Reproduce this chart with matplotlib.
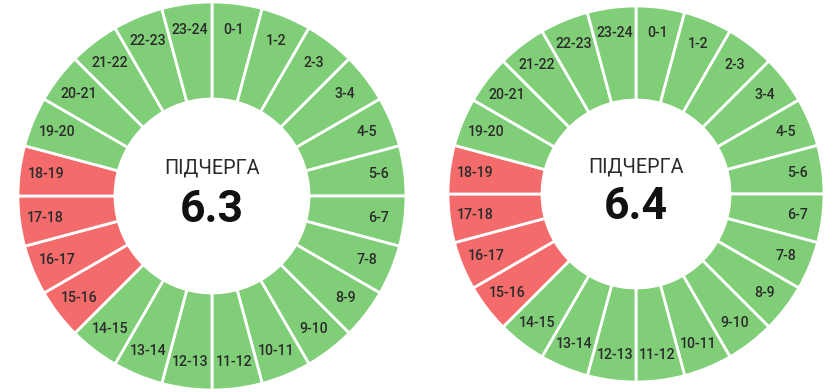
import matplotlib
matplotlib.use("Agg")
import matplotlib.pyplot as plt

# hour slots and their status per queue (True = outage / red)
hours = [f"{h}-{h + 1}" for h in range(24)]
queue_names = ["6.3", "6.4"]
outage_hours = {
    "6.3": [15, 16, 17, 18],
    "6.4": [15, 16, 17, 18],
}
title_text = "ПІДЧЕРГА"

GREEN = "#80cf78"
RED = "#f46b6b"
W, H = 834, 392

# pixel centre and outer radius of each donut
layout = [(212, 196, 194), (636, 194, 188)]

fig = plt.figure(figsize=(W / 100, H / 100), dpi=100)
plt.rcParams["font.family"] = ["Roboto", "DejaVu Sans"]

for name, (cx, cy, r) in zip(queue_names, layout):
    ax = fig.add_axes([(cx - r) / W, (H - cy - r) / H, 2 * r / W, 2 * r / H])
    colors = [RED if h in outage_hours[name] else GREEN for h in range(24)]
    wedges, texts = ax.pie(
        [1] * 24,
        labels=hours,
        colors=colors,
        startangle=90,
        counterclock=False,
        radius=1,
        labeldistance=0.865,
        wedgeprops=dict(width=0.5, edgecolor="white", linewidth=2),
        textprops=dict(fontsize=10.2, color="#2a2a2a", fontweight="medium"),
    )
    for t in texts:
        t.set_ha("center")
        t.set_va("center")
    ax.text(0, 0.145, title_text, ha="center", va="center", fontsize=14.2,
            fontweight="normal", color="#2a2a2a")
    ax.text(0, -0.07, name, ha="center", va="center", fontsize=32,
            fontweight="bold", color="#111111")
    ax.set_xlim(-1, 1)
    ax.set_ylim(-1, 1)
    ax.set_aspect("equal")
    ax.axis("off")

fig.savefig("out.png", dpi=100)
plt.close(fig)
